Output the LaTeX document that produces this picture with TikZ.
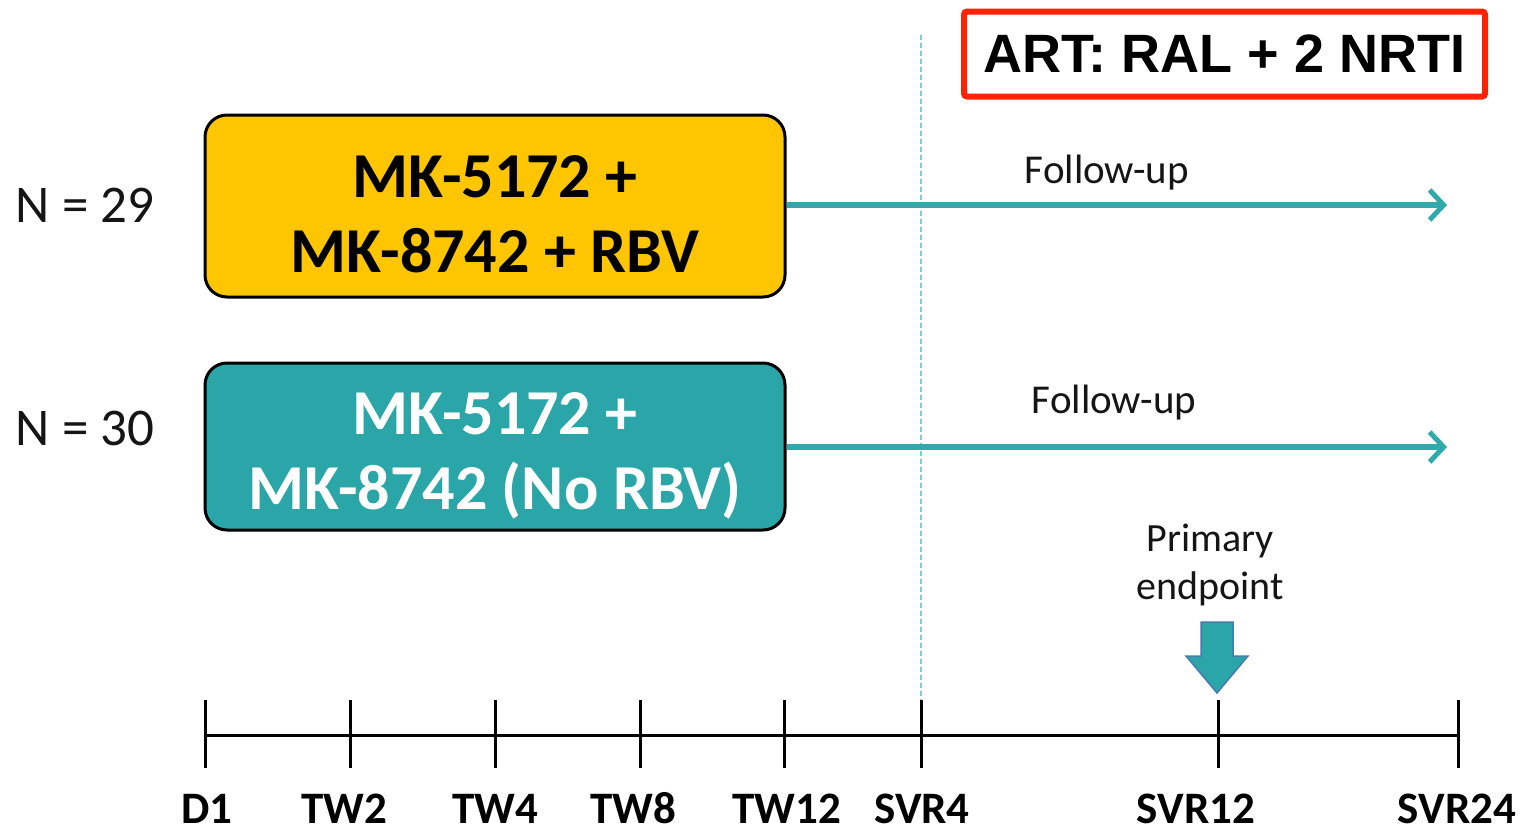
\documentclass[tikz,border=0pt]{standalone}
\usepackage{fontspec}
\setmainfont{Carlito}
\newfontfamily\arialfont{Liberation Sans}
\usetikzlibrary{arrows.meta}
\definecolor{goldfill}{HTML}{FDC600}
\definecolor{tealfill}{HTML}{2AA5A8}
\definecolor{tealline}{HTML}{30A9AB}
\definecolor{dashteal}{HTML}{7FCCCD}
\definecolor{redbox}{HTML}{FF2200}
\definecolor{txtdark}{HTML}{151515}
\definecolor{arrowedge}{HTML}{4A78B0}
\tikzset{
  armbox/.style={draw=black, line width=3pt, rounded corners=22pt, minimum width=580pt, inner sep=0pt},
  armtext/.style={align=center, font=\bfseries\fontsize{64}{75}\selectfont, inner sep=0pt},
  nlabel/.style={font=\fontsize{53}{60}\selectfont, text=txtdark, inner sep=0pt},
  fuarrow/.style={draw=tealline, line width=5.5pt, -{Straight Barb[length=14pt,width=30pt,line width=5pt]}},
  fulabel/.style={font=\fontsize{41}{48}\selectfont, text=txtdark, inner sep=0pt},
  tickline/.style={draw=black, line width=3pt},
  ticklabel/.style={font=\bfseries\fontsize{45}{50}\selectfont, text=black, inner sep=0pt, anchor=base},
}
\begin{document}
\begin{tikzpicture}[x=1pt,y=-1pt]
\useasboundingbox (0,0) rectangle (1530,833);
% dashed vertical line
\coordinate (dtop) at (921,35);
\coordinate (dbot) at (921,700);
\draw[dashteal, line width=2.5pt, dash pattern=on 5pt off 3pt] (dtop) -- (dbot);
% ART box
\node[draw=redbox, line width=6pt, rounded corners=3pt, minimum width=521pt, minimum height=85pt, inner sep=0pt,
  font=\arialfont\bfseries\fontsize{54}{60}\selectfont] (art) at (1224.5,54) {ART: RAL + 2 NRTI};
% arm boxes
\node[armbox, fill=goldfill, minimum height=182pt] (armA) at (495,206) {};
\node[armtext, text=black] (armAt) at (495,214) {MK-5172 +\\MK-8742 + RBV};
\node[armbox, fill=tealfill, minimum height=167pt] (armB) at (495,446.5) {};
\node[armtext, text=white] (armBt) at (495,456) {MK-5172 +\\MK-8742 (No RBV)};
% N labels
\node[nlabel] (nA) at (85,205) {N = 29};
\node[nlabel] (nB) at (85,428) {N = 30};
% follow-up arrows
\coordinate (endA) at (1447,205);
\coordinate (endB) at (1447,447);
\draw[fuarrow] (armA.east |- endA) -- (endA);
\draw[fuarrow] (armB.east |- endB) -- (endB);
\node[fulabel] (fuA) at (1107,173) {Follow-up};
\node[fulabel] (fuB) at (1114,403) {Follow-up};
% primary endpoint
\node[fulabel, align=center, font=\fontsize{40}{48}\selectfont] (pe) at (1210,565) {Primary\\endpoint};
\draw[fill=tealfill, draw=arrowedge, line width=1.5pt]
  (1201,622) -- (1233,622) -- (1233,656) -- (1248,656) -- (1217,693) -- (1186,656) -- (1201,656) -- cycle;
% timeline
\foreach \n/\x in {0/205,1/350,2/495,3/640,4/784,5/921,6/1218,7/1458}{
  \coordinate (t\n) at (\x,735);
  \draw[tickline] (\x,700) -- (\x,768);
}
\draw[tickline] (t0) -- (t7);
\foreach \n/\x/\lab in {0/207/D1,1/344/TW2,2/495/TW4,3/633/TW8,4/787/TW12,5/922/SVR4,6/1196/SVR12,7/1457/SVR24}{
  \node[ticklabel] (l\n) at (\x,823) {\lab};
}
\end{tikzpicture}
\end{document}
